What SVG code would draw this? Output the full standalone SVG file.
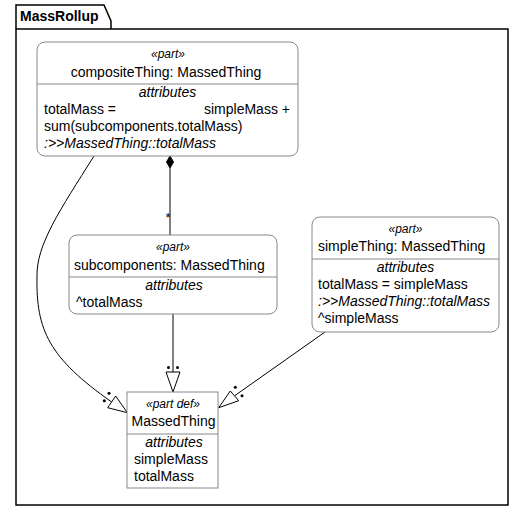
<svg xmlns="http://www.w3.org/2000/svg" width="531" height="511" viewBox="0 0 531 511">
<style>
text{font-family:"Liberation Sans",Arial,sans-serif;fill:#000}
.st{font-size:12px;font-style:italic}
.nm{font-size:14px}
.it{font-size:14px;font-style:italic}
.box{fill:#fff;stroke:#888;stroke-width:1}
.sep{stroke:#888;stroke-width:1}
.ln{fill:none;stroke:#000;stroke-width:1}
.head{fill:#fff;stroke:#000;stroke-width:1}
.dot{fill:#000}
</style>
<rect width="531" height="511" fill="#fff"/>
<g id="package">
<path d="M16,29 L16,5 L104,5 L111,21 L111,29" fill="none" stroke="#000" stroke-width="1.5"/>
<rect x="16" y="29" width="492" height="476" fill="none" stroke="#000" stroke-width="1.5"/>
<text x="20" y="21" style="font-size:14px;font-weight:bold">MassRollup</text>
</g>
<g id="connectors">
<path class="ln" d="M94,156 C60,210 36,245 37,277 C36,330 49,358 111.7,402"/>
<polygon class="head" points="127.3,412.7 115.7,396 107.7,407.7"/>
<circle class="dot" cx="109" cy="393.3" r="1.5"/>
<circle class="dot" cx="104.3" cy="400.7" r="1.5"/>
<line class="ln" x1="170" y1="168" x2="170" y2="235"/>
<polygon points="170,156 173.5,162 170,168 166.5,162" fill="#000" stroke="#000"/>
<text x="165.5" y="222" style="font-size:13px">*</text>
<line class="ln" x1="173" y1="314" x2="173" y2="372"/>
<polygon class="head" points="166,372 180,372 173,392"/>
<circle class="dot" cx="168.5" cy="367.5" r="1.5"/>
<circle class="dot" cx="177.5" cy="367.5" r="1.5"/>
<line class="ln" x1="325" y1="332" x2="234.5" y2="395.85"/>
<polygon class="head" points="218.7,407.7 230.3,391 238.7,400.7"/>
<circle class="dot" cx="235.3" cy="387.3" r="1.5"/>
<circle class="dot" cx="242" cy="395.7" r="1.5"/>
</g>
<g id="compositeThing">
<rect class="box" x="37" y="42" width="261" height="114" rx="8" ry="8"/>
<line class="sep" x1="37" y1="84" x2="298" y2="84"/>
<text class="st" x="168" y="58" text-anchor="middle">«part»</text>
<text class="nm" x="166" y="77" text-anchor="middle">compositeThing: MassedThing</text>
<text class="it" x="167.5" y="97" text-anchor="middle">attributes</text>
<text class="nm" x="44" y="114">totalMass =</text>
<text class="nm" x="204" y="114">simpleMass +</text>
<text class="nm" x="44" y="131">sum(subcomponents.totalMass)</text>
<text class="it" x="44" y="148">:&gt;&gt;MassedThing::totalMass</text>
</g>
<g id="subcomponents">
<rect class="box" x="69" y="235" width="208" height="79" rx="8" ry="8"/>
<line class="sep" x1="69" y1="277" x2="277" y2="277"/>
<text class="st" x="173" y="251" text-anchor="middle">«part»</text>
<text class="nm" x="74" y="270">subcomponents: MassedThing</text>
<text class="it" x="174" y="290" text-anchor="middle">attributes</text>
<text class="nm" x="76" y="307">^totalMass</text>
</g>
<g id="simpleThing">
<rect class="box" x="312" y="217" width="187" height="115" rx="8" ry="8"/>
<line class="sep" x1="312" y1="259" x2="499" y2="259"/>
<text class="st" x="405.5" y="233" text-anchor="middle">«part»</text>
<text class="nm" x="318" y="251">simpleThing: MassedThing</text>
<text class="it" x="405.5" y="271.5" text-anchor="middle">attributes</text>
<text class="nm" x="318" y="289">totalMass = simpleMass</text>
<text class="it" x="318" y="306">:&gt;&gt;MassedThing::totalMass</text>
<text class="nm" x="318" y="323">^simpleMass</text>
</g>
<g id="MassedThing">
<rect class="box" x="127" y="392" width="91" height="96"/>
<line class="sep" x1="127" y1="434" x2="218" y2="434"/>
<text class="st" x="173" y="408" text-anchor="middle">«part def»</text>
<text class="nm" x="173.5" y="426" text-anchor="middle">MassedThing</text>
<text class="it" x="174" y="447" text-anchor="middle">attributes</text>
<text class="nm" x="134" y="464">simpleMass</text>
<text class="nm" x="134" y="481">totalMass</text>
</g>
</svg>
